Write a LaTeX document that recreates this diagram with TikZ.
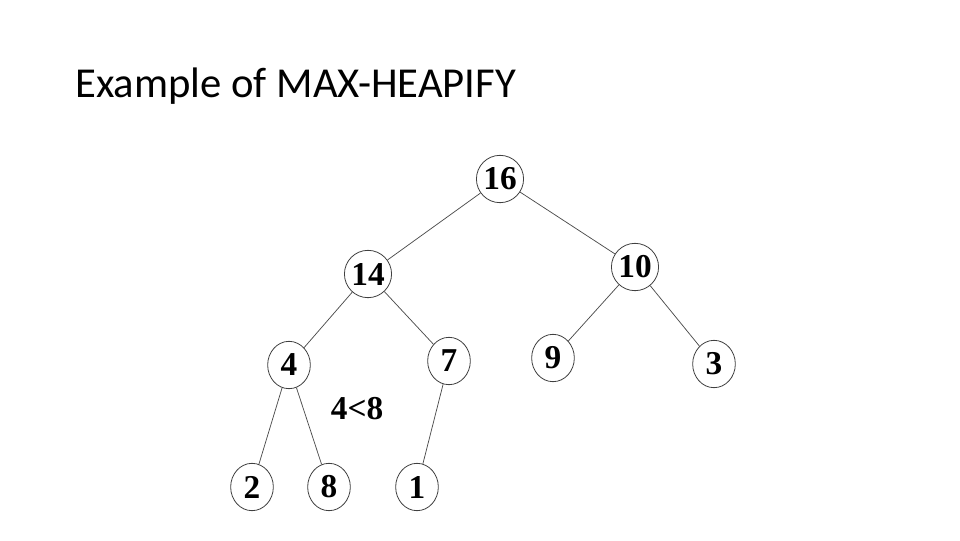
\documentclass[tikz,border=0pt]{standalone}
\usepackage{fontspec}
\setmainfont{Liberation Serif}
\newfontfamily\titlefont{Carlito}
\usetikzlibrary{shapes.geometric}
\begin{document}
\begin{tikzpicture}[x=0.75pt,y=-0.75pt,
  hnode/.style={ellipse,draw=black!75,line width=0.6pt,minimum width=32pt,minimum height=35.5pt,inner sep=0pt,
    font=\fontsize{25}{25}\selectfont\bfseries},
  edge/.style={draw=black!70,line width=0.55pt},
  titletext/.style={anchor=base west,inner sep=0pt,font=\titlefont\fontsize{32}{32}\selectfont}]
\useasboundingbox[fill=white] (0,0) rectangle (960,540);
\node[titletext] (title) at (75,97) {Example of MAX-HEAPIFY};
\node[hnode] (n16) at (500,179) {16};
\node[hnode] (n14) at (368,274) {14};
\node[hnode] (n10) at (635,267) {10};
\node[hnode] (n4) at (289,365) {4};
\node[hnode] (n7) at (449,361) {7};
\node[hnode] (n9) at (553,358) {9};
\node[hnode] (n3) at (714,364) {3};
\node[hnode] (n2) at (252,487) {2};
\node[hnode] (n8) at (329,487) {8};
\node[hnode] (n1) at (417,487) {1};
\node[font=\fontsize{25}{25}\selectfont\bfseries,inner sep=0pt] (cmp) at (357,409) {4<8};
\draw[edge] (n16) -- (n14);
\draw[edge] (n16) -- (n10);
\draw[edge] (n14) -- (n4);
\draw[edge] (n14) -- (n7);
\draw[edge] (n10) -- (n9);
\draw[edge] (n10) -- (n3);
\draw[edge] (n4) -- (n2);
\draw[edge] (n4) -- (n8);
\draw[edge] (n7) -- (n1);
\end{tikzpicture}
\end{document}
